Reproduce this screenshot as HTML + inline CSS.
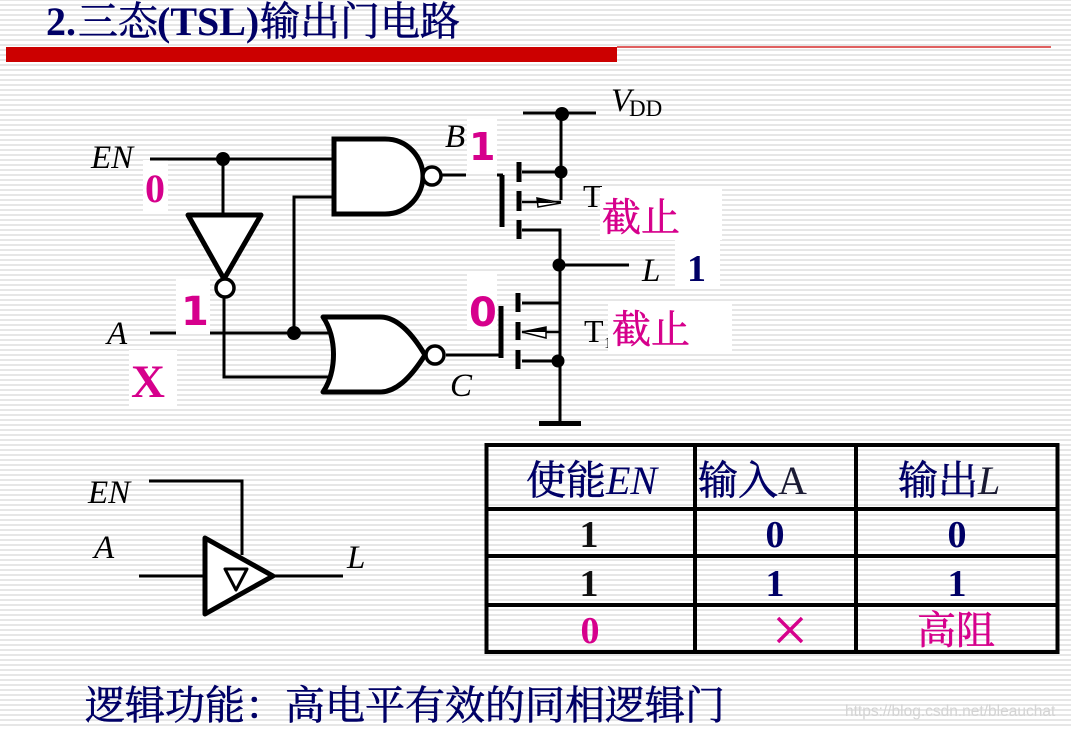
<!DOCTYPE html>
<html><head><meta charset="utf-8"><style>
html,body{margin:0;padding:0;width:1071px;height:729px;overflow:hidden;background:#fff}
svg{display:block}
.cj{font-family:'Noto Serif CJK SC','Noto Sans CJK SC',serif;font-weight:normal;font-style:normal;stroke-width:.6px}
</style></head><body>
<svg width="1071" height="729" viewBox="0 0 1071 729" xmlns="http://www.w3.org/2000/svg">
<defs>
<pattern id="st" width="10" height="5" patternUnits="userSpaceOnUse" y="4"><rect width="10" height="5" fill="#fff"/><rect y="0" width="10" height="2" fill="#e6e6e6"/></pattern>
</defs>
<rect width="1071" height="729" fill="url(#st)"/>
<text x="46" y="35" font-family="'Liberation Serif',serif" font-size="40" font-weight="bold" fill="#000066">2.<tspan x="78" class="cj" stroke="#000066">三态</tspan><tspan x="157">(TSL)</tspan><tspan x="260" class="cj" stroke="#000066">输出门电路</tspan></text>
<rect x="6" y="47" width="611" height="15" fill="#cc0000"/>
<rect x="617" y="46" width="434" height="2" fill="#e06060"/>

<!-- white label backgrounds -->
<g fill="#fff">
<rect x="143" y="160" width="25" height="51"/>
<rect x="176" y="279" width="34" height="55"/>
<rect x="129" y="350" width="48" height="57"/>
<rect x="467" y="118" width="30" height="54"/>
<rect x="675" y="240" width="45" height="46"/>
<rect x="467" y="274" width="30" height="56"/>
</g>

<g fill="none" stroke="#000" stroke-width="3">
<path d="M150 159H334M223 159V214"/>
<path d="M334 197H294V333"/>
<path d="M150 333H176M210 333H338"/>
<path d="M224 296V377H334"/>
<path d="M442 175H466M497 175H503"/>
<path d="M446 355H503"/>
<path d="M523 113H596M561 113V200"/>
<path d="M522 172H561"/>
<path d="M522 230H560V333"/>
<path d="M560 265H629"/>
<path d="M522 303H560V265"/>
<path d="M560 331V422"/>
<path d="M522 361H560"/>
<path d="M522 202H561" stroke-width="2.5"/>
<path d="M522 332H560" stroke-width="2.5"/>
</g>
<!-- MOS gates -->
<g stroke="#000" fill="none">
<path d="M502 175V227" stroke-width="5"/>
<path d="M501 306V358" stroke-width="5"/>
<path d="M519 162V182M519 191V211M519 220V239M518 293V312M518 322V340M518 350V369" stroke-width="5"/>
</g>
<rect x="539" y="421" width="42" height="5" fill="#000"/>
<path d="M537 198L561 203L538 207Z" fill="#fff" stroke="#000" stroke-width="1.5"/>
<path d="M537 198L555 203L538 203Z" fill="#000"/>
<path d="M522 332L546 327V338Z" fill="#fff" stroke="#000" stroke-width="1.5"/>
<path d="M522 332L546 327V332Z" fill="#000"/>

<!-- NAND -->
<path d="M334 139H385C408 139 423 158 423 176C423 195 408 214 385 214H334Z" fill="#fff" stroke="#000" stroke-width="5"/>
<circle cx="432" cy="176" r="9" fill="#fff" stroke="#000" stroke-width="3.5"/>
<!-- NOR -->
<path d="M323 317H380C398 317 413 335 425 355C413 374 398 392 380 392H323C337 372 337 337 323 317Z" fill="#fff" stroke="#000" stroke-width="5" stroke-linejoin="round"/>
<circle cx="435" cy="355" r="9" fill="#fff" stroke="#000" stroke-width="3.5"/>
<!-- inverter -->
<path d="M188 215H261L224 279Z" fill="#fff" stroke="#000" stroke-width="5" stroke-linejoin="round"/>
<circle cx="225" cy="288" r="9" fill="#fff" stroke="#000" stroke-width="3.5"/>

<!-- dots -->
<g fill="#000">
<circle cx="223" cy="159" r="7"/><circle cx="294" cy="333" r="7"/>
<circle cx="562" cy="114" r="7"/><circle cx="561" cy="172" r="6.5"/>
<circle cx="559" cy="265" r="6.5"/><circle cx="558" cy="361" r="6.5"/>
</g>

<!-- buffer symbol -->
<g fill="none" stroke="#000" stroke-width="3">
<path d="M149 481H242V555"/>
<path d="M139 576H205M275 576H343"/>
</g>
<path d="M205 538L273 576L205 614Z" fill="#fff" stroke="#000" stroke-width="5" stroke-linejoin="round"/>
<path d="M225 569H247L236 590Z" fill="#fff" stroke="#000" stroke-width="3" stroke-linejoin="round"/>

<!-- italic labels -->
<g font-family="'Liberation Serif',serif" font-style="italic" font-size="33" fill="#000">
<text x="91" y="168">EN</text>
<text x="107" y="344">A</text>
<text x="445" y="147">B</text>
<text x="450" y="396">C</text>
<text x="611" y="111">V</text>
<text x="642" y="281">L</text>
<text x="88" y="503">EN</text>
<text x="94" y="558">A</text>
<text x="347" y="568">L</text>
</g>
<g font-family="'Liberation Serif',serif" fill="#000">
<text x="629" y="116" font-size="23">DD</text>
<text x="583" y="207" font-size="32">T</text>
<text x="584" y="342" font-size="32">T</text>
<text x="604" y="348" font-size="16">1</text>
</g>
<rect x="600" y="187" width="122" height="53" fill="#fff"/>
<rect x="608" y="302" width="124" height="50" fill="#fff"/>
<rect x="675" y="240" width="45" height="46" fill="#fff"/>

<!-- bold state labels -->
<g font-weight="bold" fill="#d6008c">
<text x="145" y="202" font-size="40" font-family="'Liberation Serif',serif">0</text>
<text x="181" y="325" font-size="40" font-family="'DejaVu Sans',sans-serif">1</text>
<text x="131" y="397" font-size="47" font-family="'Liberation Serif',serif">X</text>
<text x="469" y="160" font-size="38" font-family="'DejaVu Sans',sans-serif">1</text>
<text x="469" y="326" font-size="40" font-family="'DejaVu Sans',sans-serif">0</text>
</g>
<text x="687" y="281" font-family="'Liberation Serif',serif" font-weight="bold" font-size="38" fill="#000066">1</text>
<g class="cj" font-size="39" fill="#d6008c" stroke="#d6008c">
<text x="602" y="231">截止</text>
<text x="612" y="343">截止</text>
</g>

<!-- table -->
<g stroke="#000" fill="none">
<rect x="486.5" y="445" width="571" height="207" stroke-width="4"/>
<path d="M695 445V652M856 445V652" stroke-width="4"/>
<path d="M486 509H1058M486 556H1058M486 605H1058" stroke-width="4"/>
</g>
<g font-family="'Liberation Serif',serif" font-size="40" fill="#000066">
<text x="526" y="494"><tspan class="cj" stroke="#000066">使能</tspan><tspan font-style="italic">EN</tspan></text>
<text x="698" y="494"><tspan class="cj" stroke="#000066">输入</tspan><tspan fill="#1a1a33">A</tspan></text>
<text x="898" y="494"><tspan class="cj" stroke="#000066">输出</tspan><tspan font-style="italic" fill="#1a1a33">L</tspan></text>
</g>
<g font-family="'Liberation Serif',serif" font-weight="bold" font-size="38" text-anchor="middle">
<text x="589" y="547" fill="#111">1</text>
<text x="775" y="547" fill="#000066">0</text>
<text x="957" y="547" fill="#000066">0</text>
<text x="589" y="596" fill="#111">1</text>
<text x="775" y="596" fill="#000066">1</text>
<text x="957" y="596" fill="#000066">1</text>
<text x="590" y="643" fill="#d6008c">0</text>
</g>
<path d="M778 618L802 642M802 618L778 642" stroke="#d6008c" stroke-width="3.5" fill="none"/>
<text x="917" y="644" class="cj" font-size="39" fill="#d6008c" stroke="#d6008c">高阻</text>

<text x="85" y="719" class="cj" font-size="40" fill="#000066" stroke="#000066">逻辑功能：高电平有效的同相逻辑门</text>
<text x="845" y="716" font-family="'Liberation Sans',sans-serif" font-size="15.5" fill="#d4d4d4">https://blog.csdn.net/bleauchat</text>
</svg>
</body></html>
